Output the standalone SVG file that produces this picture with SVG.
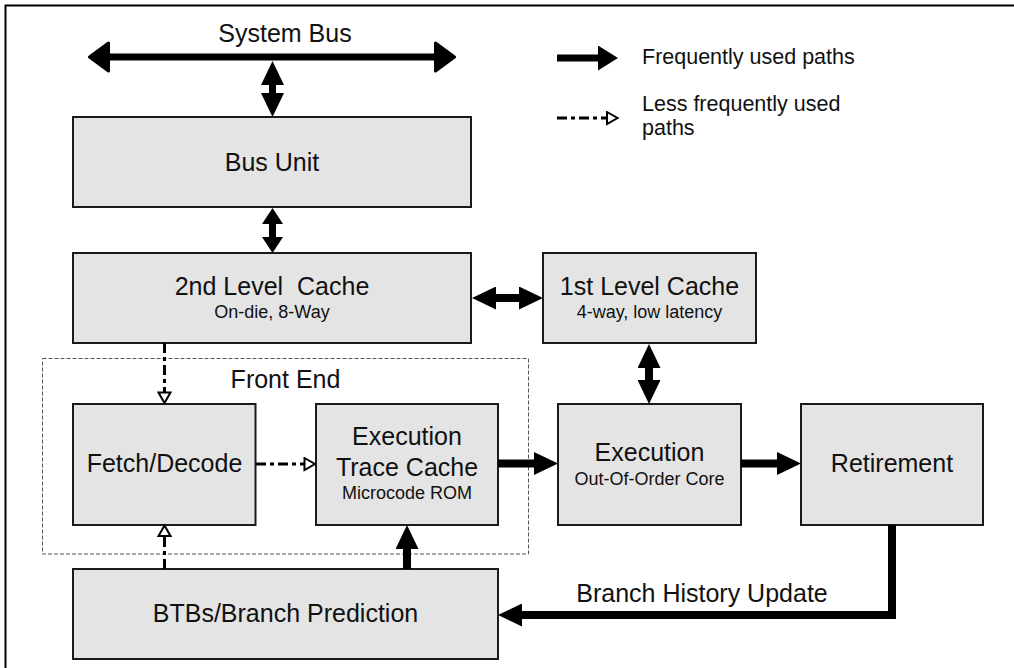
<svg xmlns="http://www.w3.org/2000/svg" width="1014" height="668" viewBox="0 0 1014 668">
<style>
  .box { fill: #e4e4e4; stroke: #1a1a1a; stroke-width: 2; }
  .t { font-family: "Liberation Sans", Arial, sans-serif; fill: #111; text-anchor: middle; }
  .big { font-size: 25px; }
  .small { font-size: 18px; }
  .leg { font-family: "Liberation Sans", Arial, sans-serif; fill: #111; font-size: 21.5px; }
  .thick { stroke: #000; stroke-width: 8; fill: none; }
  .dash { stroke: #000; stroke-width: 3; fill: none; stroke-dasharray: 10 4 4 4; }
</style>
<defs>
  <marker id="ah" viewBox="0 0 24 23" refX="12" refY="11.5" markerWidth="24" markerHeight="23" markerUnits="userSpaceOnUse" orient="auto-start-reverse">
    <path d="M0,0 L24,11.5 L0,23 z" fill="#000"/>
  </marker>
  <marker id="ahl" viewBox="0 0 20 25" refX="10" refY="12.5" markerWidth="20" markerHeight="25" markerUnits="userSpaceOnUse" orient="auto">
    <path d="M0,0 L20,12.5 L0,25 z" fill="#000"/>
  </marker>
  <marker id="ahs" viewBox="0 0 16 21" refX="8" refY="10.5" markerWidth="16" markerHeight="21" markerUnits="userSpaceOnUse" orient="auto-start-reverse">
    <path d="M0,0 L16,10.5 L0,21 z" fill="#000"/>
  </marker>
  <marker id="ahb" viewBox="-2 -2 23 32" refX="9" refY="14" markerWidth="23" markerHeight="32" markerUnits="userSpaceOnUse" orient="auto-start-reverse">
    <path d="M0,0 L19,14 L0,28 z" fill="#000" stroke="#000" stroke-width="3" stroke-linejoin="round"/>
  </marker>
  <marker id="oh" viewBox="-1.5 -1.5 14 15" refX="0" refY="6" markerWidth="14" markerHeight="15" markerUnits="userSpaceOnUse" orient="auto">
    <path d="M0,0 L10.5,6 L0,12 z" fill="#fff" stroke="#000" stroke-width="2"/>
  </marker>
</defs>

<rect x="5.5" y="5.5" width="1030" height="700" fill="#fff" stroke="#000" stroke-width="2"/>

<g id="legend">
  <line x1="557" y1="58" x2="608" y2="58" stroke="#000" stroke-width="7" marker-end="url(#ahl)"/>
  <text class="leg" x="642" y="64">Frequently used paths</text>
  <line x1="557" y1="118" x2="607" y2="118" class="dash" marker-end="url(#oh)"/>
  <text class="leg" x="642" y="111">Less frequently used</text>
  <text class="leg" x="642" y="135">paths</text>
</g>

<g id="system-bus">
  <text class="t big" x="285" y="42">System Bus</text>
</g>

<g id="front-end">
  <rect x="42.5" y="358.5" width="486" height="195.5" fill="none" stroke="#555" stroke-width="1" stroke-dasharray="4 2"/>
  <text class="t big" x="285.5" y="388">Front End</text>
</g>

<g id="bus-unit">
  <rect class="box" x="73" y="117" width="398" height="90"/>
  <text class="t big" x="272" y="171">Bus Unit</text>
</g>

<g id="l2-cache">
  <rect class="box" x="73" y="253" width="398" height="90"/>
  <text class="t big" x="272" y="295" style="white-space:pre">2nd Level  Cache</text>
  <text class="t small" x="272" y="318">On-die, 8-Way</text>
</g>

<g id="l1-cache">
  <rect class="box" x="543" y="253" width="213" height="90"/>
  <text class="t big" x="649.5" y="295">1st Level Cache</text>
  <text class="t small" x="649.5" y="318">4-way, low latency</text>
</g>

<g id="fetch-decode">
  <rect class="box" x="73" y="404" width="182.5" height="121"/>
  <text class="t big" x="164.5" y="472">Fetch/Decode</text>
</g>

<g id="trace-cache">
  <rect class="box" x="316" y="404" width="182" height="121"/>
  <text class="t big" x="407" y="445">Execution</text>
  <text class="t big" x="407" y="476">Trace Cache</text>
  <text class="t small" x="407" y="499">Microcode ROM</text>
</g>

<g id="execution">
  <rect class="box" x="558" y="404" width="183" height="121"/>
  <text class="t big" x="649.5" y="461">Execution</text>
  <text class="t small" x="649.5" y="485">Out-Of-Order Core</text>
</g>

<g id="retirement">
  <rect class="box" x="801" y="404" width="182" height="121"/>
  <text class="t big" x="892" y="472">Retirement</text>
</g>

<g id="btb">
  <rect class="box" x="73" y="569" width="425" height="90"/>
  <text class="t big" x="285.5" y="622">BTBs/Branch Prediction</text>
</g>

<g id="connectors">
  <line x1="99.5" y1="57" x2="444.5" y2="57" stroke="#000" stroke-width="7" marker-start="url(#ahb)" marker-end="url(#ahb)"/>
  <line x1="272.5" y1="73" x2="272.5" y2="105" stroke="#000" stroke-width="7" marker-start="url(#ah)" marker-end="url(#ah)"/>
  <line x1="272.5" y1="216" x2="272.5" y2="245" stroke="#000" stroke-width="7" marker-start="url(#ahs)" marker-end="url(#ahs)"/>
  <line x1="484" y1="298" x2="531" y2="298" class="thick" marker-start="url(#ah)" marker-end="url(#ah)"/>
  <line x1="649" y1="356" x2="649" y2="392" class="thick" marker-start="url(#ah)" marker-end="url(#ah)"/>
  <line x1="498" y1="463.5" x2="546" y2="463.5" class="thick" marker-end="url(#ah)"/>
  <line x1="741" y1="463.5" x2="789" y2="463.5" class="thick" marker-end="url(#ah)"/>
  <line x1="407" y1="569" x2="407" y2="537" class="thick" marker-end="url(#ah)"/>
  <path d="M892,525 V615 H510" class="thick" stroke-linejoin="miter" marker-end="url(#ah)"/>
  <text class="t big" x="702" y="602">Branch History Update</text>
  <line x1="164.5" y1="343" x2="164.5" y2="392.5" class="dash" marker-end="url(#oh)"/>
  <line x1="256" y1="464" x2="304.5" y2="464" class="dash" marker-end="url(#oh)"/>
  <line x1="164.5" y1="569" x2="164.5" y2="536" class="dash" marker-end="url(#oh)"/>
</g>
</svg>
